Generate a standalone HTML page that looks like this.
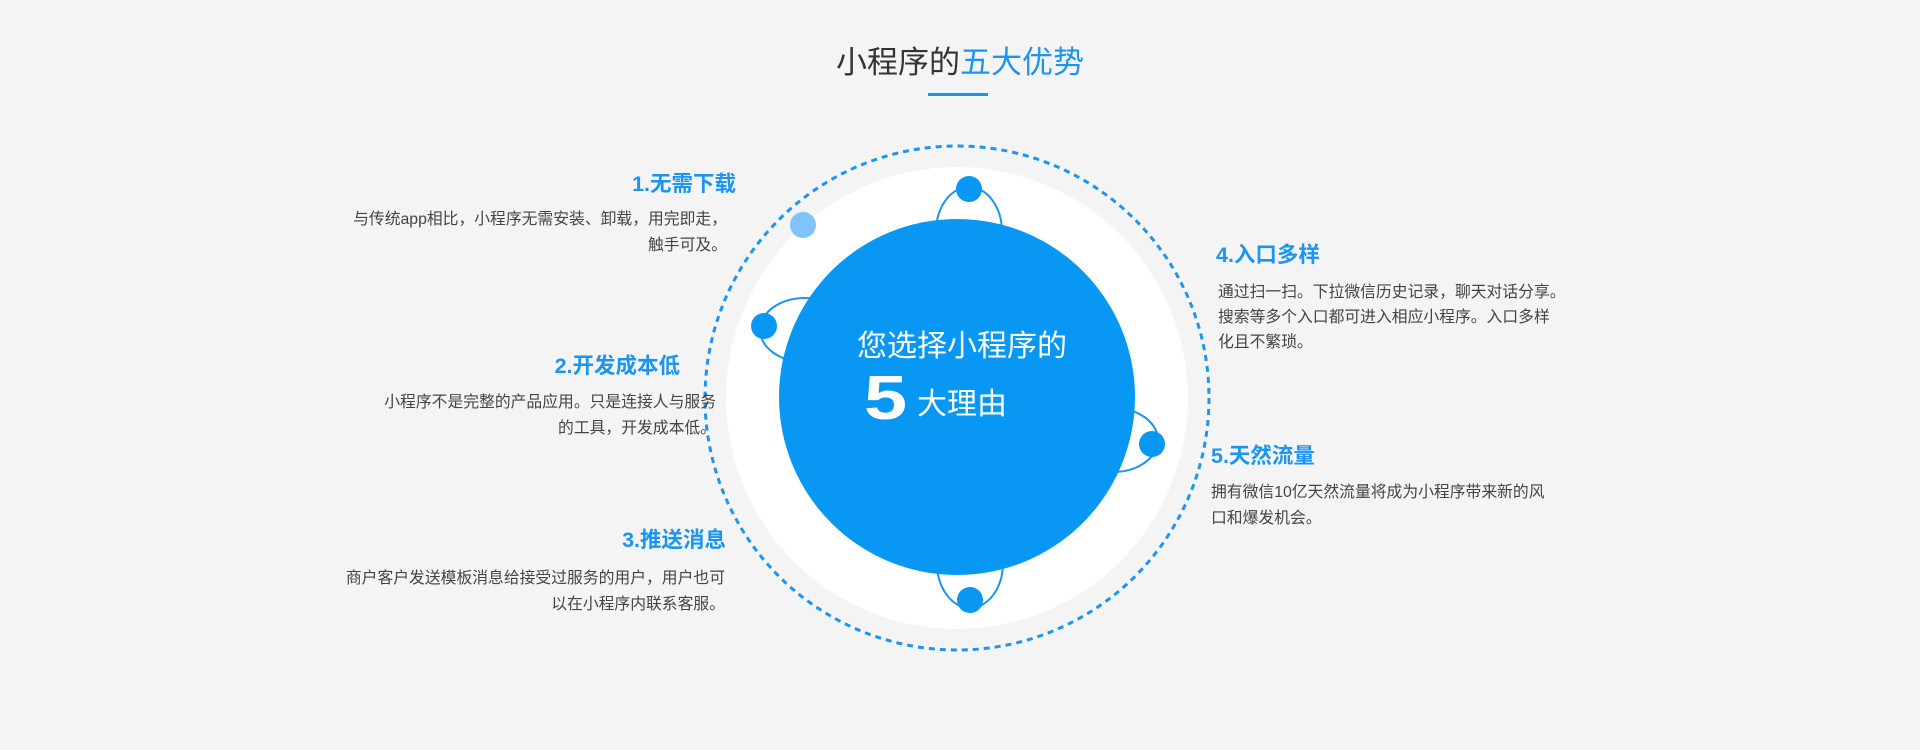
<!DOCTYPE html>
<html><head><meta charset="utf-8"><style>
html,body{margin:0;padding:0}
body{width:1920px;height:750px;background:#f4f4f4;position:relative;overflow:hidden;font-family:"Liberation Sans","Noto Sans CJK SC",sans-serif}
.t{position:absolute;white-space:nowrap;line-height:1}
.h{font-size:21.5px;font-weight:bold;color:#1c95f0}
.d{font-size:15.8px;color:#444;line-height:26px}
.r{text-align:right}
</style></head><body>
<svg width="1920" height="750" style="position:absolute;left:0;top:0">
<circle cx="957" cy="398" r="252" fill="none" stroke="#1c95f0" stroke-width="3" stroke-dasharray="6,5"/>
<circle cx="957" cy="398" r="231" fill="#fff"/>
<g fill="none" stroke="#1c95f0" stroke-width="2">
<ellipse cx="969" cy="232" rx="33" ry="45"/>
<ellipse cx="970" cy="563" rx="33" ry="45"/>
<ellipse cx="805" cy="330" rx="45" ry="32"/>
<ellipse cx="1113" cy="440" rx="45" ry="32"/>
</g>
<circle cx="957" cy="397" r="178" fill="#0898f3"/>
<circle cx="969" cy="189" r="13" fill="#0898f3"/>
<circle cx="970" cy="600" r="13" fill="#0898f3"/>
<circle cx="764" cy="326" r="13" fill="#0898f3"/>
<circle cx="1152" cy="444" r="13" fill="#0898f3"/>
<circle cx="803" cy="225" r="13" fill="#7fc4f8"/>
<rect x="928" y="93" width="60" height="3" fill="#1c95f0"/>
</svg>
<div class="t" style="left:0;width:1920px;top:47px;text-align:center;font-size:31px;color:#333">小程序的<span style="color:#1c95f0">五大优势</span></div>
<div class="t" style="left:857px;top:332px;font-size:30px;color:#fff">您选择小程序的</div>
<div class="t" style="left:864px;top:368px;font-size:62px;font-weight:900;color:#fff;transform:scaleX(1.25);transform-origin:left top">5</div>
<div class="t" style="left:917px;top:390px;font-size:30px;color:#fff">大理由</div>

<div class="t h" style="right:1184px;top:174px">1.无需下载</div>
<div class="t d r" style="right:1193px;top:207px">与传统app相比，小程序无需安装、卸载，用完即走，<br>触手可及。</div>

<div class="t h" style="right:1240px;top:356px">2.开发成本低</div>
<div class="t d r" style="right:1204px;top:390px">小程序不是完整的产品应用。只是连接人与服务<br>的工具，开发成本低。</div>

<div class="t h" style="right:1194px;top:530px">3.推送消息</div>
<div class="t d r" style="right:1195px;top:566px">商户客户发送模板消息给接受过服务的用户，用户也可<br>以在小程序内联系客服。</div>

<div class="t h" style="left:1216px;top:245px">4.入口多样</div>
<div class="t d" style="left:1218px;top:280px;line-height:25px">通过扫一扫。下拉微信历史记录，聊天对话分享。<br>搜索等多个入口都可进入相应小程序。入口多样<br>化且不繁琐。</div>

<div class="t h" style="left:1211px;top:446px">5.天然流量</div>
<div class="t d" style="left:1211px;top:480px">拥有微信10亿天然流量将成为小程序带来新的风<br>口和爆发机会。</div>
</body></html>
